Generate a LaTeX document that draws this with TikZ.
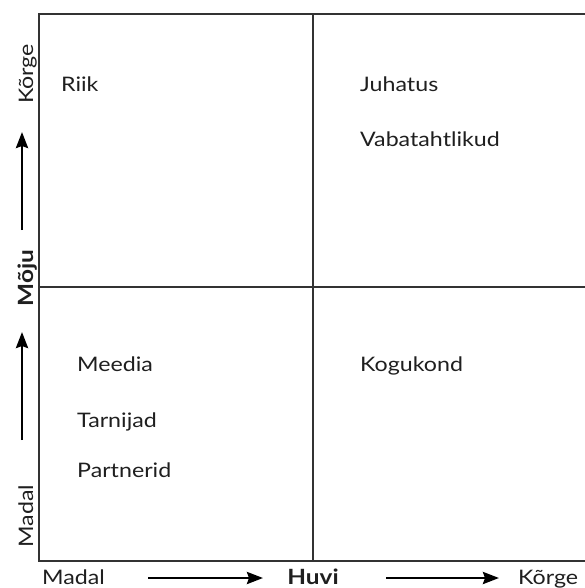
\documentclass[tikz,border=0pt]{standalone}
\usepackage{fontspec}
\setmainfont{Lato}[FakeStretch=1.16]
\usetikzlibrary{arrows.meta}
\begin{document}
\begin{tikzpicture}[x=1pt,y=-1pt,
  grid/.style={draw=black!80,line width=1.4pt},
  item/.style={anchor=base west,inner sep=0pt,font=\fontsize{20}{24}\selectfont,text=black!88},
  axislabel/.style={inner sep=0pt,font=\fontsize{20}{24}\selectfont,text=black!88},
  axisarrow/.style={draw=black,line width=2.8pt,-{Stealth[length=16pt,width=12pt,inset=2pt]}}]
\useasboundingbox (0,0) rectangle (585,588);

% quadrant frame
\coordinate (tl) at (39,14);
\coordinate (tr) at (585,14);
\coordinate (bl) at (39,561);
\coordinate (br) at (585,561);
\coordinate (midtop) at (313,14);
\coordinate (midbot) at (313,561);
\coordinate (midleft) at (39,287);
\coordinate (midright) at (585,287);
\draw[grid] (tr) -- (tl) -- (bl) -- (br);
\draw[grid] (midtop) -- (midbot);
\draw[grid] (midleft) -- (midright);

% stakeholders
\node[item] (riik) at (61,92) {Riik};
\node[item] (juhatus) at (360,92) {Juhatus};
\node[item] (vaba) at (360,147) {Vabatahtlikud};
\node[item] (meedia) at (77,371) {Meedia};
\node[item] (tarnijad) at (77,427) {Tarnijad};
\node[item] (partnerid) at (77,477) {Partnerid};
\node[item] (kogukond) at (360,371) {Kogukond};

% horizontal axis
\node[axislabel,anchor=base west] (xlow) at (42,584) {Madal};
\node[axislabel,anchor=base] (xname) at (313,584) {\fontsize{21}{24}\selectfont\textbf{Huvi}};
\node[axislabel,anchor=base west] (xhigh) at (518,584) {Kõrge};
\coordinate (xa1s) at (148,578);
\coordinate (xa1e) at (263,578);
\coordinate (xa2s) at (386,578);
\coordinate (xa2e) at (499,578);
\draw[axisarrow] (xa1s) -- (xa1e);
\draw[axisarrow] (xa2s) -- (xa2e);

% vertical axis
\node[axislabel,rotate=90,anchor=base] (yhigh) at (33,74) {Kõrge};
\node[axislabel,rotate=90,anchor=base] (yname) at (33,278) {\fontsize{21}{24}\selectfont\textbf{Mõju}};
\node[axislabel,rotate=90,anchor=base] (ylow) at (33,516) {Madal};
\coordinate (ya1s) at (22,440);
\coordinate (ya1e) at (22,332);
\coordinate (ya2s) at (22,230);
\coordinate (ya2e) at (22,132);
\draw[axisarrow] (ya1s) -- (ya1e);
\draw[axisarrow] (ya2s) -- (ya2e);
\end{tikzpicture}
\end{document}
